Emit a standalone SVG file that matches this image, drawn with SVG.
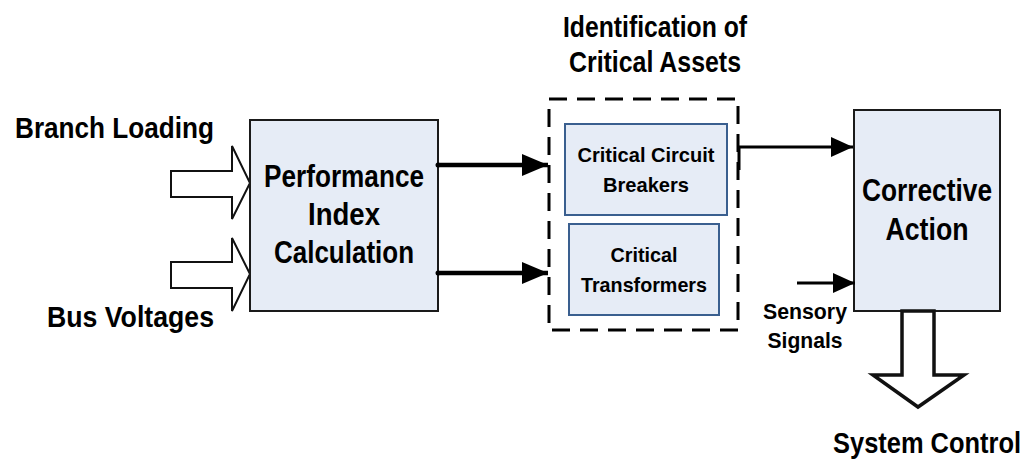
<svg xmlns="http://www.w3.org/2000/svg" width="1033" height="465" viewBox="0 0 1033 465">
  <style>
    .lbl { font-family: "Liberation Sans", Arial, sans-serif; font-weight: bold; fill: #000; }
    .big { font-size: 30px; }
    .mid { font-size: 32px; }
    .sm { font-size: 21px; }
    .xs { font-size: 22px; }
    .box { fill: #e6ecf6; stroke: #1a1a1a; stroke-width: 2; }
    .sub { fill: #e6ecf6; stroke: #3a5f8f; stroke-width: 2; }
    .hollow { fill: #fff; stroke: #111; stroke-width: 2; stroke-linejoin: miter; }
    .wire { fill: none; stroke: #000; }
  </style>
  <defs>
    <marker id="headL" markerUnits="userSpaceOnUse" markerWidth="26" markerHeight="22" refX="26" refY="11" orient="auto">
      <path d="M0,0 L26,11 L0,22 z" fill="#000"/>
    </marker>
    <marker id="headS" markerUnits="userSpaceOnUse" markerWidth="22" markerHeight="20" refX="22" refY="10" orient="auto">
      <path d="M0,0 L22,10 L0,20 z" fill="#000"/>
    </marker>
  </defs>

  <rect width="1033" height="465" fill="#fff"/>

  <!-- input labels and hollow input arrows -->
  <g id="input-branch">
    <text class="lbl big" x="15" y="138" textLength="199" lengthAdjust="spacingAndGlyphs">Branch Loading</text>
    <polygon class="hollow" points="171,171 232,171 232,146 250,183 232,219 232,197 171,197"/>
  </g>
  <g id="input-bus">
    <text class="lbl big" x="47" y="327" textLength="167" lengthAdjust="spacingAndGlyphs">Bus Voltages</text>
    <polygon class="hollow" points="171,262 232,262 232,238 250,274 232,311 232,288 171,288"/>
  </g>

  <!-- performance index block -->
  <g id="performance">
    <rect class="box" x="250" y="120" width="188" height="191"/>
    <text class="lbl mid" x="344" y="187" text-anchor="middle" textLength="160" lengthAdjust="spacingAndGlyphs">Performance</text>
    <text class="lbl mid" x="344" y="225" text-anchor="middle" textLength="72" lengthAdjust="spacingAndGlyphs">Index</text>
    <text class="lbl mid" x="344" y="263" text-anchor="middle" textLength="140" lengthAdjust="spacingAndGlyphs">Calculation</text>
  </g>

  <!-- critical assets group -->
  <g id="critical-assets">
    <text class="lbl big" x="655" y="37" text-anchor="middle" textLength="184" lengthAdjust="spacingAndGlyphs">Identification of</text>
    <text class="lbl big" x="655" y="72" text-anchor="middle" textLength="172" lengthAdjust="spacingAndGlyphs">Critical Assets</text>
    <rect x="549" y="99" width="189" height="231" fill="none" stroke="#000" stroke-width="3" stroke-dasharray="18,10"/>
  </g>
  <g id="breakers">
    <rect class="sub" x="565" y="124" width="162" height="91"/>
    <text class="lbl sm" x="646" y="162" text-anchor="middle" textLength="137" lengthAdjust="spacingAndGlyphs">Critical Circuit</text>
    <text class="lbl sm" x="646" y="192" text-anchor="middle" textLength="86" lengthAdjust="spacingAndGlyphs">Breakers</text>
  </g>
  <g id="transformers">
    <rect class="sub" x="569" y="224" width="150" height="91"/>
    <text class="lbl sm" x="644" y="262" text-anchor="middle" textLength="67" lengthAdjust="spacingAndGlyphs">Critical</text>
    <text class="lbl sm" x="644" y="292" text-anchor="middle" textLength="126" lengthAdjust="spacingAndGlyphs">Transformers</text>
  </g>

  <!-- corrective action block -->
  <g id="corrective">
    <rect class="box" x="854" y="110" width="146" height="201"/>
    <text class="lbl mid" x="927" y="201" text-anchor="middle" textLength="130" lengthAdjust="spacingAndGlyphs">Corrective</text>
    <text class="lbl mid" x="927" y="240" text-anchor="middle" textLength="83" lengthAdjust="spacingAndGlyphs">Action</text>
  </g>

  <g id="sensory">
    <text class="lbl xs" x="805" y="319" text-anchor="middle" textLength="84" lengthAdjust="spacingAndGlyphs">Sensory</text>
    <text class="lbl xs" x="805" y="348" text-anchor="middle" textLength="75" lengthAdjust="spacingAndGlyphs">Signals</text>
  </g>

  <!-- output -->
  <g id="system-control">
    <polygon class="hollow" style="stroke-width:3.5" points="902,311 934,311 934,375 964,375 918,407 873,375 902,375"/>
    <text class="lbl" font-size="26" x="0" y="0" transform="translate(927,453) scale(1,1.15)" text-anchor="middle" textLength="188" lengthAdjust="spacingAndGlyphs">System Control</text>
  </g>

  <!-- connectors -->
  <g id="connectors">
    <circle cx="438" cy="165" r="2.5" fill="#000"/>
    <circle cx="438" cy="273" r="2.5" fill="#000"/>
    <line class="wire" x1="438" y1="165" x2="548" y2="165" stroke-width="4.5" marker-end="url(#headL)"/>
    <line class="wire" x1="438" y1="273" x2="548" y2="273" stroke-width="4.5" marker-end="url(#headL)"/>
    <polyline class="wire" points="739,170 739,147 853,147" stroke-width="3" marker-end="url(#headS)"/>
    <line class="wire" x1="797" y1="283" x2="855" y2="283" stroke-width="3" marker-end="url(#headS)"/>
  </g>
</svg>
